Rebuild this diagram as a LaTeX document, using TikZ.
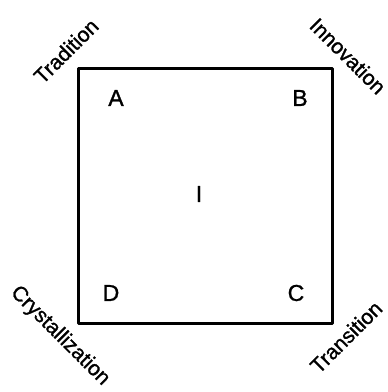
\documentclass[tikz,border=0pt]{standalone}
\usepackage{fontspec}
\setmainfont[FakeBold=1.2,AutoFakeBold=1.2]{Liberation Sans}
\begin{document}
\begin{tikzpicture}[x=1pt,y=-1pt,
  corner/.style={font=\fontsize{23}{27}\selectfont\bfseries, inner sep=0pt},
  diag/.style={font=\fontsize{21}{25}\selectfont, inner sep=0pt}]
\useasboundingbox (0,0) rectangle (388,392);
\draw[line width=3pt, line join=round] (78,68) rectangle (332,323);
\node[corner] (A) at (116,98) {A};
\node[corner] (B) at (300,98) {B};
\node[corner] (C) at (296,293) {C};
\node[corner] (D) at (111,293) {D};
\node[corner] (I) at (199,194) {I};
\node[diag, rotate=45] (trad) at (66,51) {Tradition};
\node[diag, rotate=-45] (inno) at (348,56) {Innovation};
\node[diag, rotate=-45] (crys) at (60,336) {Crystallization};
\node[diag, rotate=45] (tran) at (346,337) {Transition};
\end{tikzpicture}
\end{document}
